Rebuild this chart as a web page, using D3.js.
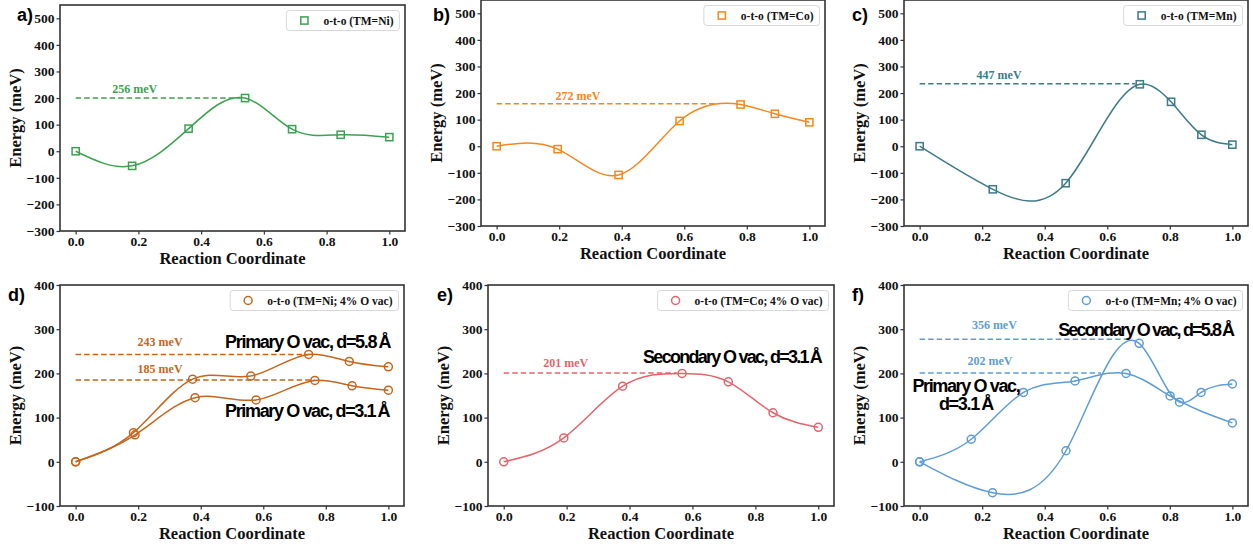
<!DOCTYPE html>
<html>
<head>
<meta charset="utf-8">
<script src="https://cdn.jsdelivr.net/npm/d3@7"></script>
<style>
  body { margin: 0; background: #fff; }
  svg text { font-family: "Liberation Serif", "Times New Roman", serif; font-weight: bold; fill: #111; }
  svg text.sans { font-family: "Liberation Sans", Arial, sans-serif; }
</style>
</head>
<body>
<svg id="fig" width="1253" height="546"></svg>
<script>
// ---- data (reaction coordinate, energy in meV) ----
const xTicks = [0, 0.2, 0.4, 0.6, 0.8, 1.0];
const yTicksTop = [-300, -200, -100, 0, 100, 200, 300, 400, 500];
const yTicksBottom = [-100, 0, 100, 200, 300, 400];

const rcNi = [0, 0.18, 0.36, 0.54, 0.69, 0.845, 1.0];
const eNi = [0, -55, 85, 200, 83, 62, 53];

const rcCo = [0, 0.195, 0.39, 0.585, 0.78, 0.89, 1.0];
const eCo = [0, -11, -108, 95, 157, 122, 90];

const rcMn = [0, 0.234, 0.467, 0.704, 0.804, 0.901, 1.0];
const eMn = [0, -162, -139, 233, 167, 43, 6];

const rcNiVac58 = [0, 0.185, 0.374, 0.56, 0.745, 0.875, 1.0];
const eNiVac58 = [0, 66, 187, 194, 243, 227, 215];
const rcNiVac31 = [0, 0.19, 0.382, 0.577, 0.765, 0.884, 1.0];
const eNiVac31 = [0, 61, 145, 140, 184, 172, 162];

const rcCoVac = [0, 0.191, 0.378, 0.567, 0.714, 0.856, 1.0];
const eCoVac = [0, 54, 171, 200, 181, 111, 78];

const rcMnVac31 = [0, 0.165, 0.332, 0.497, 0.66, 0.801, 1.0];
const eMnVac31 = [0, 51, 157, 183, 200, 149, 88];
const rcMnVac58 = [0, 0.233, 0.468, 0.702, 0.831, 0.9, 1.0];
const eMnVac58 = [0, -70, 25, 268, 135, 157, 176];

// barrier guides: [level, end of dashed line, label, label x, label y]
const barNi = [[200, 0.525, "256 meV", 0.188, 218]];
const barCo = [[160, 0.71, "272 meV", 0.26, 174]];
const barMn = [[235, 0.69, "447 meV", 0.254, 252]];
const barNiVac = [[243, 0.745, "243 meV", 0.27, 262], [185, 0.765, "185 meV", 0.27, 200]];
const barCoVac = [[201, 0.55, "201 meV", 0.197, 215]];
const barMnVac = [[277, 0.665, "356 meV", 0.239, 300], [201, 0.58, "202 meV", 0.225, 218]];

// text notes: [text, x, y, anchor, width px]
const noteNiVac = [["Primary O vac, d=5.8\u2009Å", 0.478, 257, "start", 165],
                   ["Primary O vac, d=3.1\u2009Å", 0.478, 101, "start", 164]];
const noteCoVac = [["Secondary O vac, d=3.1\u2009Å", 0.443, 223, "start", 178]];
const noteMnVac = [["Secondary O vac, d=5.8\u2009Å", 0.443, 285, "start", 175],
                   ["Primary O vac,", 0.148, 159, "middle", 107],
                   ["d=3.1\u2009Å", 0.148, 118, "middle", 54]];

const panels = [
  {tag: "a)", tagPos: [17, 21], box: [60, 405, 5, 231], yDom: [-300, 550], yTicks: yTicksTop, marker: "square",
   color: "#3ca251", legend: "o-t-o (TM=Ni)", series: [[rcNi, eNi]], bars: barNi, notes: []},
  {tag: "b)", tagPos: [433, 21], box: [481, 825, 0, 226], yDom: [-300, 550], yTicks: yTicksTop, marker: "square",
   color: "#f7861c", legend: "o-t-o (TM=Co)", series: [[rcCo, eCo]], bars: barCo, notes: []},
  {tag: "c)", tagPos: [852, 21], box: [904, 1248, 0, 226], yDom: [-300, 550], yTicks: yTicksTop, marker: "square",
   color: "#3d7b86", legend: "o-t-o (TM=Mn)", series: [[rcMn, eMn]], bars: barMn, notes: []},
  {tag: "d)", tagPos: [8, 301], box: [60, 404, 285, 506], yDom: [-100, 400], yTicks: yTicksBottom, marker: "circle",
   color: "#c5661f", legend: "o-t-o (TM=Ni; 4% O vac)", series: [[rcNiVac58, eNiVac58], [rcNiVac31, eNiVac31]], bars: barNiVac, notes: noteNiVac},
  {tag: "e)", tagPos: [437, 301], box: [488, 834, 285, 506], yDom: [-100, 400], yTicks: yTicksBottom, marker: "circle",
   color: "#e5646c", legend: "o-t-o (TM=Co; 4% O vac)", series: [[rcCoVac, eCoVac]], bars: barCoVac, notes: noteCoVac},
  {tag: "f)", tagPos: [852, 301], box: [904, 1248, 285, 506], yDom: [-100, 400], yTicks: yTicksBottom, marker: "circle",
   color: "#5d9dd6", legend: "o-t-o (TM=Mn; 4% O vac)", series: [[rcMnVac31, eMnVac31], [rcMnVac58, eMnVac58]], bars: barMnVac, notes: noteMnVac}
];

// natural cubic spline y(x), drawn as exact bezier pieces
function splineSlopes(x, y) {
  const n = x.length, h = [], d = [];
  for (let i = 0; i < n - 1; i++) { h.push(x[i + 1] - x[i]); d.push((y[i + 1] - y[i]) / h[i]); }
  // tridiagonal system: sub a, diag b, super c, rhs r
  const a = new Array(n).fill(0), b = new Array(n).fill(0), c = new Array(n).fill(0), r = new Array(n).fill(0);
  b[0] = 2; c[0] = 1; r[0] = 3 * d[0];
  for (let i = 1; i < n - 1; i++) {
    a[i] = h[i]; b[i] = 2 * (h[i - 1] + h[i]); c[i] = h[i - 1];
    r[i] = 3 * (h[i] * d[i - 1] + h[i - 1] * d[i]);
  }
  a[n - 1] = 1; b[n - 1] = 2; r[n - 1] = 3 * d[n - 2];
  for (let i = 1; i < n; i++) {
    const f = a[i] / b[i - 1];
    b[i] -= f * c[i - 1];
    r[i] -= f * r[i - 1];
  }
  const m = new Array(n);
  m[n - 1] = r[n - 1] / b[n - 1];
  for (let i = n - 2; i >= 0; i--) m[i] = (r[i] - c[i] * m[i + 1]) / b[i];
  return m;
}

function SplineX(context) { this._context = context; }
SplineX.prototype = {
  areaStart() {}, areaEnd() {},
  lineStart() { this._x = []; this._y = []; },
  point(x, y) { this._x.push(+x); this._y.push(+y); },
  lineEnd() {
    const x = this._x, y = this._y, n = x.length, c = this._context;
    const m = splineSlopes(x, y);
    c.moveTo(x[0], y[0]);
    for (let i = 0; i < n - 1; i++) {
      const h = (x[i + 1] - x[i]) / 3;
      c.bezierCurveTo(x[i] + h, y[i] + m[i] * h, x[i + 1] - h, y[i + 1] - m[i + 1] * h, x[i + 1], y[i + 1]);
    }
  }
};
const curveSplineX = ctx => new SplineX(ctx);

const svg = d3.select("#fig");
svg.append("rect").attr("width", 1253).attr("height", 546).attr("fill", "#fff");

function drawMarker(sel, kind, color) {
  if (kind == "square") {
    sel.append("rect").attr("x", -3.6).attr("y", -3.6).attr("width", 7.2).attr("height", 7.2)
      .attr("fill", "none").attr("stroke", color).attr("stroke-width", 1.5);
  } else {
    sel.append("circle").attr("r", 4).attr("fill", "none").attr("stroke", color).attr("stroke-width", 1.5);
  }
}

function drawPanel(p) {
  const [L, R, T, B] = p.box;
  const g = svg.append("g");
  const x = d3.scaleLinear().domain([-0.05, 1.05]).range([L, R]);
  const y = d3.scaleLinear().domain(p.yDom).range([B, T]);

  // axes
  const gx = g.append("g").attr("transform", "translate(0," + B + ")")
    .call(d3.axisBottom(x).tickValues(xTicks).tickFormat(d3.format(".1f")).tickSize(3.5).tickPadding(1.5).tickSizeOuter(0));
  const gy = g.append("g").attr("transform", "translate(" + L + ",0)")
    .call(d3.axisLeft(y).tickValues(p.yTicks).tickFormat(d3.format("d")).tickSize(3.5).tickPadding(2).tickSizeOuter(0));
  [gx, gy].forEach(a => {
    a.attr("font-family", null).attr("font-size", null);
    a.select(".domain").remove();
    a.selectAll(".tick line").attr("stroke", "#333").attr("stroke-width", 1.2);
    a.selectAll(".tick text").attr("fill", "#111").style("font-size", "13.5px");
  });

  g.append("text").attr("x", (L + R) / 2).attr("y", B + 33).attr("text-anchor", "middle")
    .style("font-size", "16.5px").text("Reaction Coordinate");
  g.append("text").attr("transform", "translate(" + (L - 39) + "," + ((T + B) / 2) + ") rotate(-90)")
    .attr("text-anchor", "middle").style("font-size", "16.5px").text("Energy (meV)");

  // barrier guides
  p.bars.forEach(b => {
    g.append("line").attr("x1", x(0)).attr("x2", x(b[1])).attr("y1", y(b[0])).attr("y2", y(b[0]))
      .attr("stroke", p.color).attr("stroke-width", 1.5).attr("stroke-dasharray", "5.5,3");
    g.append("text").attr("x", x(b[3])).attr("y", y(b[4])).attr("text-anchor", "middle")
      .style("font-size", "12px").style("fill", p.color).text(b[2]);
  });

  // curves and markers
  const line = d3.line().x(d => x(d[0])).y(d => y(d[1])).curve(curveSplineX);
  p.series.forEach(s => {
    const pts = s[0].map((v, i) => [v, s[1][i]]);
    g.append("path").datum(pts).attr("d", line).attr("fill", "none")
      .attr("stroke", p.color).attr("stroke-width", 1.5);
    pts.forEach(d => {
      const m = g.append("g").attr("transform", "translate(" + x(d[0]) + "," + y(d[1]) + ")");
      drawMarker(m, p.marker, p.color);
    });
  });

  // notes: tight letter spacing so each fits the width seen in the figure
  p.notes.forEach(n => {
    const t = g.append("text").attr("class", "sans").attr("x", x(n[1])).attr("y", y(n[2]))
      .attr("text-anchor", n[3]).style("font-size", "18px").style("fill", "#000").text(n[0]);
    const natural = t.node().getComputedTextLength();
    t.style("letter-spacing", ((n[4] - natural) / n[0].length) + "px");
  });

  // frame
  g.append("rect").attr("x", L).attr("y", T).attr("width", R - L).attr("height", B - T)
    .attr("fill", "none").attr("stroke", "#333").attr("stroke-width", 1.6);

  // legend
  const lg = g.append("g");
  const box = lg.append("rect");
  const lt = lg.append("text").attr("x", 37).attr("y", 14).style("font-size", "11.5px").text(p.legend);
  const w = 37 + lt.node().getComputedTextLength() + 6;
  box.attr("width", w).attr("height", 20).attr("rx", 3).attr("fill", "#fff").attr("fill-opacity", 0.85)
    .attr("stroke", "#d8d8d8").attr("stroke-width", 1);
  drawMarker(lg.append("g").attr("transform", "translate(18,10)"), p.marker, p.color);
  lg.attr("transform", "translate(" + (R - 5.5 - w) + "," + (T + 5.5) + ")");

  // panel tag
  svg.append("text").attr("class", "sans").attr("x", p.tagPos[0]).attr("y", p.tagPos[1])
    .style("font-size", "18px").style("fill", "#000").text(p.tag);
}

panels.forEach(drawPanel);
</script>
</body>
</html>
